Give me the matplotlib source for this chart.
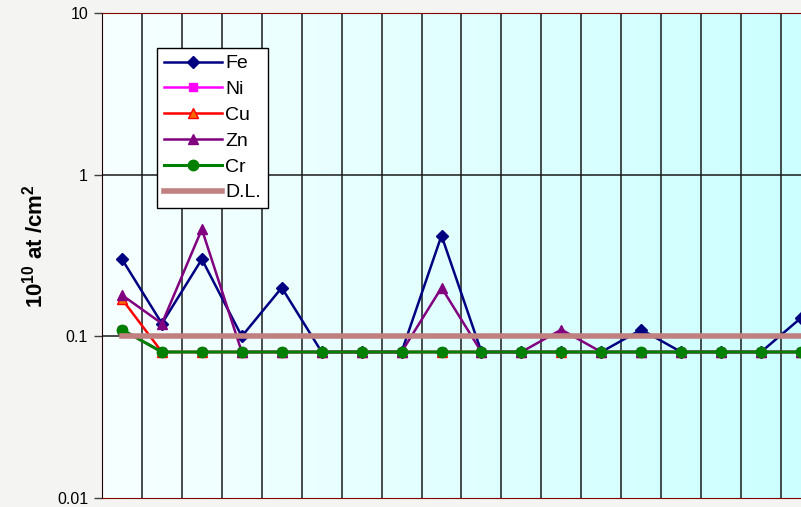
import numpy as np
import matplotlib
matplotlib.use('Agg')
import matplotlib.pyplot as plt

plt.rcParams['font.family'] = ['Liberation Sans', 'DejaVu Sans']
plt.rcParams['mathtext.fontset'] = 'custom'
plt.rcParams['mathtext.rm'] = 'Liberation Sans'
plt.rcParams['mathtext.bf'] = 'Liberation Sans:bold'

# surface concentrations, units of 1e10 atoms/cm^2, one value per sample position
positions = np.arange(18)
fe = [0.30, 0.12, 0.30, 0.10, 0.20, 0.08, 0.08, 0.08, 0.42, 0.08,
      0.08, 0.08, 0.08, 0.11, 0.08, 0.08, 0.08, 0.13]
ni = [0.11, 0.08, 0.08, 0.08, 0.08, 0.08, 0.08, 0.08, 0.08, 0.08,
      0.08, 0.08, 0.08, 0.08, 0.08, 0.08, 0.08, 0.08]
cu = [0.17, 0.08, 0.08, 0.08, 0.08, 0.08, 0.08, 0.08, 0.08, 0.08,
      0.08, 0.08, 0.08, 0.08, 0.08, 0.08, 0.08, 0.08]
zn = [0.18, 0.12, 0.46, 0.08, 0.08, 0.08, 0.08, 0.08, 0.20, 0.08,
      0.08, 0.11, 0.08, 0.08, 0.08, 0.08, 0.08, 0.08]
cr = [0.11, 0.08, 0.08, 0.08, 0.08, 0.08, 0.08, 0.08, 0.08, 0.08,
      0.08, 0.08, 0.08, 0.08, 0.08, 0.08, 0.08, 0.08]
detection_limit = [0.1] * len(positions)

fig = plt.figure(figsize=(8.01, 5.07), dpi=100)
fig.patch.set_facecolor('#f4f4f2')
ax = fig.add_axes([102/801, 9/507, 699/801, 485/507])
ax.set_yscale('log')
ax.set_ylim(0.01, 10)
ax.set_xlim(-0.5, 17.0)

# light cyan gradient behind the plot
grad = np.linspace(0, 1, 256).reshape(1, -1)
c0 = np.array([0.97, 1.0, 1.0])
c1 = np.array([0.80, 1.0, 1.0])
img = c0 + (c1 - c0) * grad[..., None]
ax.imshow(img, extent=[0, 1, 0, 1], transform=ax.transAxes, aspect='auto', zorder=0)

for xg in np.arange(0.5, 17, 1.0):
    ax.axvline(xg, color='#1a1a1a', lw=1.1, zorder=1)
for yg in [0.1, 1]:
    ax.axhline(yg, color='#1a1a1a', lw=1.1, zorder=1)

ax.plot(positions, fe, color='#000080', marker='D', ms=6, lw=1.8, label='Fe', zorder=3)
ax.plot(positions, ni, color='#ff00ff', marker='s', ms=6, lw=1.8, label='Ni', zorder=3)
ax.plot(positions, cu, color='#ff0000', marker='^', ms=7, mfc='#ff6600', mec='#ff0000',
        lw=1.8, label='Cu', zorder=3)
ax.plot(positions, zn, color='#800080', marker='^', ms=7, lw=1.8, label='Zn', zorder=3)
ax.plot(positions, cr, color='#008000', marker='o', ms=7.5, lw=2.2, label='Cr', zorder=3)
ax.plot(positions, detection_limit, color='#c08080', lw=4, label='D.L.', zorder=4)

for side in ['top', 'bottom']:
    ax.spines[side].set_color('#800000')
ax.spines['left'].set_color('#200000')
ax.spines['right'].set_visible(False)

ax.set_xticks([])
ax.set_yticks([0.01, 0.1, 1, 10])
ax.set_yticklabels(['0.01', '0.1', '1', '10'], fontsize=11.5)
ax.yaxis.set_minor_locator(matplotlib.ticker.NullLocator())
ax.tick_params(axis='y', length=6, width=1, color='#404040', pad=4)

ax.set_ylabel(r'$\mathbf{10^{10}}$ at /cm$\mathbf{^{2}}$', fontsize=16,
              fontweight='bold')
ax.yaxis.set_label_coords(-0.078, 0.52)

leg = ax.legend(loc='upper left', bbox_to_anchor=(55/699, 1 - 35/485),
                borderaxespad=0, fontsize=14, frameon=True, fancybox=False,
                edgecolor='black', framealpha=1, labelspacing=0.42,
                handlelength=3.0, handletextpad=0.15, borderpad=0.35)
leg.get_frame().set_linewidth(1.0)
leg.set_zorder(5)

fig.savefig('out.png', dpi=100, facecolor=fig.get_facecolor())
